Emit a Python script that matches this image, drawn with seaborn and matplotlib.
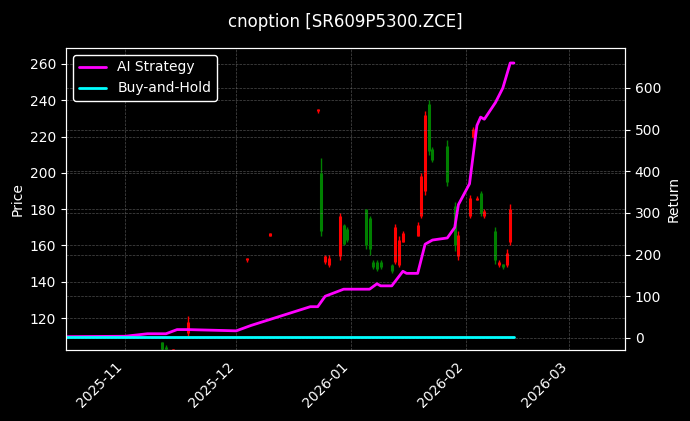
import matplotlib
matplotlib.use("Agg")
import matplotlib.pyplot as plt
import matplotlib.dates as mdates
import seaborn as sns
import pandas as pd
import numpy as np

sns.set_style("dark")
plt.style.use("dark_background")
plt.rcParams['font.family'] = ['DejaVu Sans']

# Candles: date, open, high, low, close
c_dates = ["2025-11-11","2025-11-12","2025-11-14","2025-11-18","2025-12-04","2025-12-10",
           "2025-12-23","2025-12-24","2025-12-25","2025-12-26","2025-12-29","2025-12-30","2025-12-31",
           "2026-01-05","2026-01-06","2026-01-07","2026-01-08","2026-01-09","2026-01-12",
           "2026-01-13","2026-01-14","2026-01-15","2026-01-19","2026-01-20","2026-01-21","2026-01-22","2026-01-23",
           "2026-01-27","2026-01-29","2026-01-30","2026-02-02","2026-02-03","2026-02-04","2026-02-05","2026-02-06",
           "2026-02-09","2026-02-10","2026-02-11","2026-02-12","2026-02-13"]
c_open  = [107,104,100,112,152,165,234,200,151,149,154,171,169,180,175,151,151,151,149,
           151,149,162,165,176,190,238,213,215,182,154,176,220,185,189,176,168,149,150,149,162]
c_high  = [107,105,103,121,153,167,235,208,155,155,178,172,170,180,176,152,152,152,150,
           172,165,168,173,200,234,240,214,218,184,168,188,225,187,190,180,170,152,150,158,183]
c_low   = [100,103,100,110,151,165,233,165,150,148,152,160,162,158,155,147,146,147,145,
           150,148,162,165,175,188,210,206,193,157,152,175,219,185,176,175,150,148,147,148,160]
c_close = [103,103,103,118,153,167,235,168,154,153,176,161,163,160,158,148,147,148,146,
           170,163,167,171,198,232,212,207,195,160,166,186,224,186,178,179,152,151,148,156,180]

# Returns
r_dates = ["2025-10-16","2025-11-01","2025-11-07","2025-11-12","2025-11-15","2025-11-18",
           "2025-12-01","2025-12-05","2025-12-21","2025-12-23","2025-12-25","2025-12-30","2026-01-06",
           "2026-01-08","2026-01-09","2026-01-12","2026-01-15","2026-01-16","2026-01-19","2026-01-21",
           "2026-01-23","2026-01-27","2026-01-29","2026-01-30","2026-02-02","2026-02-04","2026-02-05",
           "2026-02-06","2026-02-09","2026-02-11","2026-02-13","2026-02-14"]
r_ai    = [3,4,10,10,20,20,17,30,75,75,100,117,117,130,125,125,160,155,155,225,235,240,
           265,320,370,510,530,525,565,600,660,660]
bh_dates = ["2025-10-16","2026-02-14"]
bh_ret   = [2,2]

fig, ax = plt.subplots(figsize=(6.9, 4.21), dpi=100)
fig.patch.set_facecolor("black")
ax.set_facecolor("black")
fig.subplots_adjust(left=66/690, right=625/690, top=1-48/421, bottom=1-350/421)

cd = pd.to_datetime(c_dates)
for d, o, h, l, c in zip(cd, c_open, c_high, c_low, c_close):
    col = "red" if c >= o else "green"
    ax.vlines(d, l, h, color=col, linewidth=1)
    ax.vlines(d, min(o, c), max(o, c), color=col, linewidth=2.2)
ax.set_ylim(102.4, 268.8)
ax.set_ylabel("Price")
ax.set_xlim(pd.Timestamp("2025-10-16"), pd.Timestamp("2026-03-16"))
ax.grid(True, color="gray", linestyle="--", linewidth=0.5, alpha=0.6)

ax2 = ax.twinx()
sns.lineplot(x=pd.to_datetime(r_dates), y=r_ai, ax=ax2, color="magenta", linewidth=2, label="AI Strategy")
sns.lineplot(x=pd.to_datetime(bh_dates), y=bh_ret, ax=ax2, color="cyan", linewidth=2, label="Buy-and-Hold")
ax2.set_ylim(-29, 696)
ax2.set_ylabel("Return")
ax2.grid(True, color="gray", linestyle="--", linewidth=0.5, alpha=0.6)
leg = ax2.legend(loc="upper left", facecolor="black", edgecolor="white", framealpha=1)
ax2.set_xlim(pd.Timestamp("2025-10-16"), pd.Timestamp("2026-03-16"))

ax.xaxis.set_major_locator(mdates.MonthLocator())
ax.xaxis.set_major_formatter(mdates.DateFormatter("%Y-%m"))
for lbl in ax.get_xticklabels():
    lbl.set_rotation(45)
    lbl.set_ha("right")
fig.suptitle("cnoption [SR609P5300.ZCE]", y=0.97)
fig.savefig("out.png", dpi=100, facecolor="black")
